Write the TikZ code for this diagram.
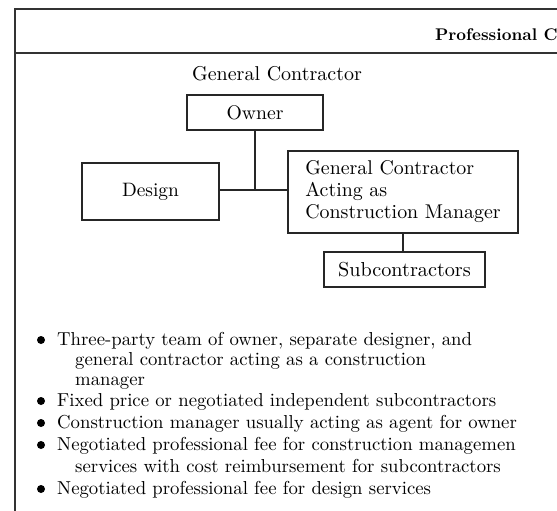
\documentclass[tikz,border=0pt]{standalone}
% text is set at the 10pt design size and enlarged
\newcommand\enl[2]{\scalebox{#1}{#2}}
\begin{document}
\begin{tikzpicture}[x=1pt,y=-1pt,
  every node/.style={font=\fontsize{10}{11.25}\selectfont, text=black},
  frame/.style={line width=1.5pt, draw=black!80},
  box/.style={draw=black!85, line width=1.4pt, inner sep=0pt},
  link/.style={line width=1.4pt, draw=black!85},
  item/.style={anchor=base west, inner sep=0pt},
  dot/.style={circle, fill=black, inner sep=0pt, minimum size=8pt}]
\useasboundingbox (0,0) rectangle (557,511);
\fill[white] (0,0) rectangle (557,511);

% panel frame and header rule
\draw[frame] (15,511) -- (15,9) -- (557,9);
\draw[frame] (15,53) -- (557,53);
\node[anchor=base west, inner sep=0pt] (head) at (435,41)
  {\enl{1.69}{\bfseries Professional C}};

% organisation chart
\node[inner sep=0pt] (title) at (277,74) {\enl{2}{General Contractor}};
\node[box, minimum width=136pt, minimum height=35pt] (owner) at (255,112.5)
  {\enl{1.97}{Owner}};
\node[box, minimum width=137pt, minimum height=57pt] (design) at (150.5,191.5)
  {\enl{1.94}{Design}};
\node[box, minimum width=230pt, minimum height=82pt] (gc) at (403,192)
  {\enl{1.99}{\begin{tabular}{@{}l@{}}General Contractor\\Acting as\\Construction Manager\end{tabular}}};
\node[box, minimum width=161pt, minimum height=35pt] (subs) at (404.5,269.5)
  {\enl{2.02}{Subcontractors}};

\coordinate (lv) at (0,190);
\draw[link] (owner.south) -- (owner.south |- lv);
\draw[link] (design.east |- lv) -- (gc.west |- lv);
\draw[link] (gc.south) -- (gc.south |- subs.north);

% bullet list
\def\s{1.874}
\node[item] (l1) at (57,345) {\enl{\s}{Three-party team of owner, separate designer, and}};
\node[item] (l1b) at (75,365) {\enl{\s}{general contractor acting as a construction}};
\node[item] (l1c) at (75,385) {\enl{\s}{manager}};
\node[item] (l2) at (57,406) {\enl{\s}{Fixed price or negotiated independent subcontractors}};
\node[item] (l3) at (57,428) {\enl{\s}{Construction manager usually acting as agent for owner}};
\node[item] (l4) at (57,450) {\enl{\s}{Negotiated professional fee for construction managemen}};
\node[item] (l4b) at (75,472) {\enl{\s}{services with cost reimbursement for subcontractors}};
\node[item] (l5) at (57,494) {\enl{\s}{Negotiated professional fee for design services}};

\foreach \b in {l1,l2,l3,l4,l5}
  \node[dot] (dot-\b) at ([yshift=5pt]\b.base west -| 41,0) {};
\end{tikzpicture}
\end{document}
